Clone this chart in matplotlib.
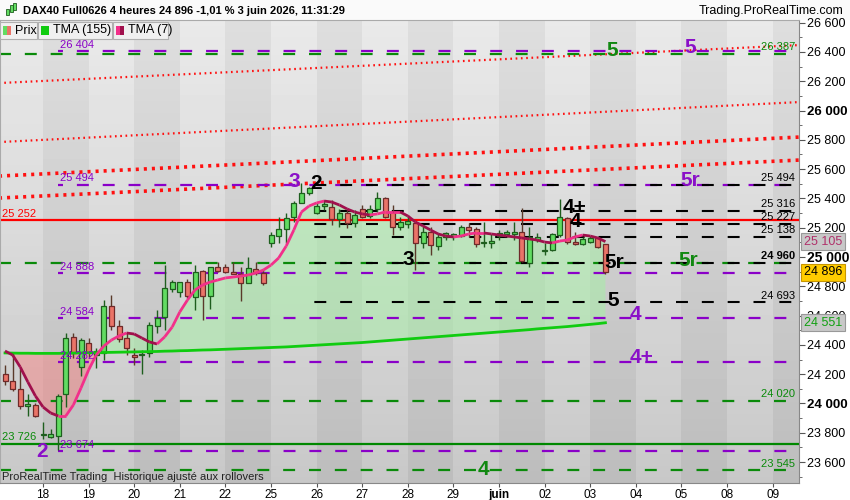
import matplotlib

matplotlib.use('Agg')
import matplotlib.pyplot as plt
import matplotlib.transforms as mtransforms
import numpy as np
from matplotlib.collections import LineCollection
from matplotlib.patches import Rectangle

plt.rcParams['font.family'] = ['Liberation Sans', 'DejaVu Sans']
plt.rcParams['lines.scale_dashes'] = False

W, H = 850, 500

TITLE = "DAX40 Full0626 4 heures 24 896 -1,01 % 3 juin 2026, 11:31:29"
SITE = "Trading.ProRealTime.com"
FOOTER = "ProRealTime Trading  Historique ajusté aux rollovers"

# 4h candles, 6 per day, first day (15) partial
day_ticks = [5, 11, 17, 23, 29, 35, 41, 47, 53, 59, 65, 71, 77, 83, 89, 95, 101]
day_labels = ['18', '19', '20', '21', '22', '25', '26', '27', '28', '29',
              'juin', '02', '03', '04', '05', '08', '09']

opens = [24204, 24150, 24102, 23980, 23990, 23785, 23770, 23776, 24062, 24456,
         24250, 24415, 24334, 24347, 24667, 24531, 24449, 24334, 24330, 24347,
         24531, 24592, 24782, 24762, 24830, 24728, 24905, 24735, 24932, 24932,
         24898, 24884, 24823, 24918, 24891, 25095, 25143, 25190, 25272, 25367,
         25435, 25299, 25347, 25340, 25258, 25299, 25231, 25326, 25279, 25326,
         25401, 25306, 25204, 25224, 25231, 25095, 25170, 25075, 25136, 25143,
         25143, 25204, 25190, 25095, 25095, 25143, 25160, 25160, 25170, 24959,
         25116, 25041, 25048, 25150, 25265, 25102, 25088, 25102, 25129, 25088]
highs = [24266, 24347, 24232, 24062, 24000, 23871, 23824, 24068, 24483, 24483,
         24450, 24449, 24381, 24708, 24740, 24572, 24483, 24381, 24367, 24558,
         24640, 24946, 24845, 24830, 24850, 24946, 24912, 24932, 24966, 24950,
         24966, 24932, 25000, 24966, 24912, 25170, 25272, 25299, 25381, 25503,
         25476, 25374, 25388, 25388, 25326, 25320, 25320, 25354, 25354, 25442,
         25408, 25354, 25272, 25286, 25240, 25218, 25204, 25163, 25170, 25163,
         25218, 25231, 25204, 25238, 25156, 25184, 25184, 25238, 25333, 25204,
         25163, 25095, 25163, 25394, 25272, 25170, 25136, 25143, 25136, 25090]
lows = [24123, 24082, 23960, 23912, 23905, 23756, 23765, 23680, 23973, 24313,
        24185, 24320, 24245, 24300, 24504, 24422, 24334, 24266, 24198, 24320,
        24483, 24504, 24762, 24728, 24720, 24640, 24572, 24646, 24898, 24890,
        24884, 24701, 24820, 24878, 24810, 25068, 25095, 25095, 25238, 25367,
        25422, 25292, 25320, 25218, 25204, 25197, 25204, 25265, 25265, 25306,
        25265, 25150, 25184, 25197, 24912, 25061, 25014, 25048, 25116, 25116,
        25136, 25136, 25068, 25068, 25061, 25116, 25136, 25116, 24966, 24932,
        25102, 25014, 25041, 25136, 25088, 25082, 25082, 25095, 25061, 24884]
closes = [24150, 24102, 23980, 23994, 23912, 23792, 23790, 24048, 24449, 24347,
          24436, 24354, 24361, 24667, 24531, 24442, 24381, 24320, 24334, 24538,
          24585, 24790, 24830, 24830, 24735, 24898, 24735, 24932, 24905, 24898,
          24884, 24823, 24925, 24891, 24823, 25150, 25190, 25265, 25367, 25435,
          25469, 25347, 25360, 25258, 25299, 25231, 25286, 25272, 25326, 25401,
          25272, 25204, 25238, 25245, 25095, 25170, 25082, 25136, 25163, 25156,
          25204, 25184, 25088, 25095, 25109, 25163, 25163, 25163, 24973, 25136,
          25136, 25045, 25156, 25272, 25102, 25088, 25122, 25129, 25068, 24896]

tma155 = [24345, 24344, 24343, 24343, 24342, 24342, 24342, 24342, 24343, 24344,
          24345, 24346, 24347, 24348, 24349, 24350, 24351, 24352, 24353, 24354,
          24355, 24357, 24358, 24360, 24361, 24363, 24365, 24366, 24368, 24370,
          24372, 24374, 24376, 24378, 24380, 24382, 24384, 24386, 24389, 24392,
          24395, 24398, 24401, 24404, 24407, 24410, 24413, 24416, 24420, 24424,
          24428, 24432, 24436, 24440, 24444, 24448, 24452, 24456, 24460, 24464,
          24468, 24472, 24476, 24480, 24484, 24488, 24492, 24496, 24500, 24504,
          24509, 24513, 24517, 24521, 24525, 24530, 24535, 24540, 24545, 24551]
tma7 = [24358, 24331, 24249, 24147, 24051, 23976, 23935, 23915, 23915, 23990,
        24106, 24229, 24331, 24392, 24433, 24461, 24481, 24474, 24447, 24420,
        24406, 24454, 24522, 24625, 24706, 24775, 24809, 24829, 24843, 24857,
        24863, 24870, 24877, 24891, 24911, 24945, 24993, 25075, 25184, 25307,
        25348, 25369, 25382, 25375, 25355, 25328, 25307, 25294, 25287, 25294,
        25307, 25307, 25307, 25280, 25239, 25212, 25184, 25157, 25143, 25137,
        25143, 25157, 25164, 25164, 25157, 25150, 25143, 25137, 25130, 25123,
        25116, 25102, 25096, 25109, 25116, 25137, 25150, 25143, 25130, 25105]

purple_levels = [26404, 25494, 24888, 24584, 24282, 23674]
green_levels = [26387, 24960, 24020, 23545]
black_levels = [25494, 25316, 25227, 25138, 24960, 24693]
red_level = 25252
green_solid = 23726
trend_start = [26187, 25784, 25552, 25402]
trend_end = [26448, 26059, 25820, 25663]

# wave count labels: (text, candle index, price, colour)
waves = [('5', 79.9, 26413, '#118811'), ('5', 90.1, 26433, '#8a10c8'),
         ('3', 38.0, 25512, '#8a10c8'), ('2', 40.9, 25505, 'black'),
         ('5r', 90.1, 25519, '#8a10c8'), ('4+', 74.9, 25341, 'black'),
         ('4', 75.1, 25239, 'black'), ('3', 53.0, 24980, 'black'),
         ('5r', 80.1, 24959, 'black'), ('5r', 89.9, 24973, '#118811'),
         ('5', 80.0, 24706, 'black'), ('4', 83.0, 24604, '#8a10c8'),
         ('4+', 83.8, 24311, '#8a10c8'), ('2', 4.9, 23669, '#8a10c8'),
         ('4', 62.9, 23546, '#118811')]

PURPLE = '#8a00c8'
GREEN = '#0a8a0a'
Y0, Y1 = 23457, 26618
X0, X1 = -0.66, 104.47


def fx(px):
    return px / W


def fy(py):
    return 1 - py / H


def fmt(v):
    return f"{v // 1000} {v % 1000:03d}"


fig = plt.figure(figsize=(W / 100, H / 100), dpi=100)
fig.patch.set_facecolor('white')
ax = fig.add_axes([0, fy(483), fx(799), fy(20) - fy(483)])

# day bands with a vertical gradient
cols = np.arange(-1, 105)
band = (cols - 5) // 6
dark = ((band % 2) == 0) & (cols >= 5)
rows = np.linspace(0, 1, 80)[:, None]
bg = 0.915 - 0.13 * rows - 0.045 * dark[None, :]
ax.imshow(bg, cmap='gray', vmin=0, vmax=1, extent=[-1, 105, Y0, Y1],
          aspect='auto', origin='upper', interpolation='nearest', zorder=0)

x = np.arange(len(closes))
t7 = np.array(tma7, dtype=float)
t155 = np.array(tma155, dtype=float)
ax.fill_between(x, t7, t155, where=t7 >= t155, interpolate=True,
                color='#a6eea6', alpha=0.55, lw=0, zorder=1)
ax.fill_between(x, t7, t155, where=t7 < t155, interpolate=True,
                color='#f28a8a', alpha=0.55, lw=0, zorder=1)

# dotted trend lines
for k, (a, b) in enumerate(zip(trend_start, trend_end)):
    if k < 2:
        ax.plot([-1, 105], [a, b], color='#ff1010', lw=1.6,
                linestyle=(0, (1.2, 2.6)), zorder=2)
    else:
        ax.plot([-1, 105], [a, b], color='#ff1010', lw=2.6,
                linestyle=(0, (2.2, 3.6)), zorder=2)

dash = (0, (8.6, 10))
ax.hlines(green_levels, -1, 105, colors=GREEN, lw=1.6, linestyles=[dash], zorder=2)
ax.hlines(purple_levels, 7, 105, colors=PURPLE, lw=1.6,
          linestyles=[(5, (8.6, 10))], zorder=2)
ax.hlines(black_levels, 39, 105, colors='black', lw=1.5,
          linestyles=[(9, (8.6, 10))], zorder=2)
ax.hlines([red_level], -1, 105, colors='#ff0000', lw=1.6, zorder=2)
ax.hlines([green_solid], -1, 105, colors='#008800', lw=1.6, zorder=2)

# candles
for i in range(len(closes)):
    o, h, l, c = opens[i], highs[i], lows[i], closes[i]
    up = c >= o
    edge = '#1e5e1e' if up else '#6e2a2a'
    face = '#62dc62' if up else '#ea7468'
    ax.vlines(i, l, h, color='#1e5e1e' if up else '#5a3a2a', lw=1, zorder=3)
    body = max(abs(c - o), 9)
    ax.bar(i, body, bottom=min(o, c), width=0.66, color=face, edgecolor=edge,
           linewidth=0.9, zorder=4)

# moving averages
ax.plot(x, t155, color='#10cc10', lw=2, zorder=5)
pts = np.column_stack([x, t7])
segs = np.stack([pts[:-1], pts[1:]], axis=1)
seg_cols = ['#a0104c' if t7[i + 1] < t7[i] else '#f2308a' for i in range(len(t7) - 1)]
ax.add_collection(LineCollection(segs, colors=seg_cols, linewidths=2, zorder=5))

for txt, xi, p, colr in waves:
    ax.text(xi, p, txt, ha='center', va='center', fontsize=15,
            fontweight='bold', color=colr, zorder=6)

blend = mtransforms.blended_transform_factory(ax.transAxes, ax.transData)
lab = dict(fontsize=8, va='bottom', zorder=6)
for p in purple_levels:
    ax.annotate(fmt(p), (7.2, p), xytext=(0, 1), textcoords='offset points',
                color=PURPLE, ha='left', **lab)
for p, colr in [(26387, GREEN), (24020, GREEN), (23545, GREEN), (25494, 'black'),
                (25316, 'black'), (25227, 'black'), (25138, 'black'), (24693, 'black')]:
    ax.annotate(fmt(p), (0.995, p), xycoords=blend, xytext=(0, 1),
                textcoords='offset points', color=colr, ha='right', **lab)
ax.annotate(fmt(24960), (0.995, 24960), xycoords=blend, xytext=(0, 1),
            textcoords='offset points', color='black', ha='right',
            fontweight='bold', **lab)
ax.annotate(fmt(red_level), (0.003, red_level), xycoords=blend, xytext=(0, 1),
            textcoords='offset points', color='#ff0000', ha='left', **lab)
ax.annotate(fmt(green_solid), (0.003, green_solid), xycoords=blend, xytext=(0, 1),
            textcoords='offset points', color=GREEN, ha='left', **lab)
ax.text(0.003, 0.014, FOOTER, transform=ax.transAxes, fontsize=8,
        color='#222222', va='center', ha='left', zorder=6)

ax.set_xlim(X0, X1)
ax.set_ylim(Y0, Y1)

# right price axis
ax.yaxis.tick_right()
ticks = list(range(23600, 26601, 200))
ax.set_yticks(ticks)
ax.set_yticklabels([fmt(t) for t in ticks])
ax.set_yticks(list(range(23500, 26601, 100)), minor=True)
ax.tick_params(axis='y', which='major', length=4, pad=2, labelsize=9,
               color='#555555')
ax.tick_params(axis='y', which='minor', length=2, color='#555555')
for t, tl in zip(ticks, ax.get_yticklabels()):
    if t % 1000 == 0:
        tl.set_fontweight('bold')
        tl.set_fontsize(10 if t == 25000 else 9.5)

ax.set_xticks(day_ticks)
ax.set_xticklabels(day_labels)
ax.tick_params(axis='x', length=3, pad=1.5, labelsize=8.5, color='#555555')
for tl in ax.get_xticklabels():
    if tl.get_text() == 'juin':
        tl.set_fontweight('bold')

for s in ['left', 'top']:
    ax.spines[s].set_color('#aaaaaa')
    ax.spines[s].set_linewidth(0.8)
for s in ['right', 'bottom']:
    ax.spines[s].set_color('#888888')
    ax.spines[s].set_linewidth(0.8)

tag = dict(transform=blend, fontsize=9, va='center', ha='left', clip_on=False, zorder=7)
ax.text(1.006, 25105, fmt(25105), color='#b0306a',
        bbox=dict(boxstyle='square,pad=0.2', fc='#c8c8c8', ec='#999999', lw=0.8), **tag)
ax.text(1.006, closes[-1], fmt(closes[-1]), color='black',
        bbox=dict(boxstyle='square,pad=0.2', fc='#ffcc00', ec='#c89600', lw=0.8), **tag)
ax.text(1.006, tma155[-1], fmt(tma155[-1]), color='#10a010',
        bbox=dict(boxstyle='square,pad=0.2', fc='#c8c8c8', ec='#999999', lw=0.8), **tag)

# title bar
fig.add_artist(Rectangle((0, fy(20)), 1, 20 / H, transform=fig.transFigure,
                         fc='#fafafa', ec='none', zorder=0))
for k, (cx, yb, yt) in enumerate([(7, 9, 15), (11, 5, 12), (15, 3, 10)]):
    fig.add_artist(Rectangle((fx(cx - 1.5), fy(yt)), 3 / W, (yt - yb) / H,
                             transform=fig.transFigure, fc='#62dc62', ec='#1e5e1e', lw=0.6))
fig.text(fx(23), fy(11), TITLE, fontsize=8, fontweight='bold', va='center', ha='left')
fig.text(fx(843), fy(11), SITE, fontsize=9, va='center', ha='right')

# legend boxes
for bx0, bx1, label, sw in [(0, 37, 'Prix', ('#62dc62', '#ea7468')),
                            (38, 112, 'TMA (155)', ('#10cc10', '#10cc10')),
                            (113, 168, 'TMA (7)', ('#f2308a', '#a0104c'))]:
    fig.add_artist(Rectangle((fx(bx0), fy(39)), (bx1 - bx0) / W, 17 / H,
                             transform=fig.transFigure, fc='#f0f0f0', ec='#b0b0b0',
                             lw=0.8, zorder=8))
    fig.add_artist(Rectangle((fx(bx0 + 3), fy(35)), 4 / W, 9 / H,
                             transform=fig.transFigure, fc=sw[0], ec='none', zorder=9))
    fig.add_artist(Rectangle((fx(bx0 + 7), fy(35)), 4 / W, 9 / H,
                             transform=fig.transFigure, fc=sw[1], ec='none', zorder=9))
    fig.text(fx(bx0 + 15), fy(30.5), label, fontsize=9, va='center', ha='left', zorder=9)

fig.savefig('out.png', dpi=100)
